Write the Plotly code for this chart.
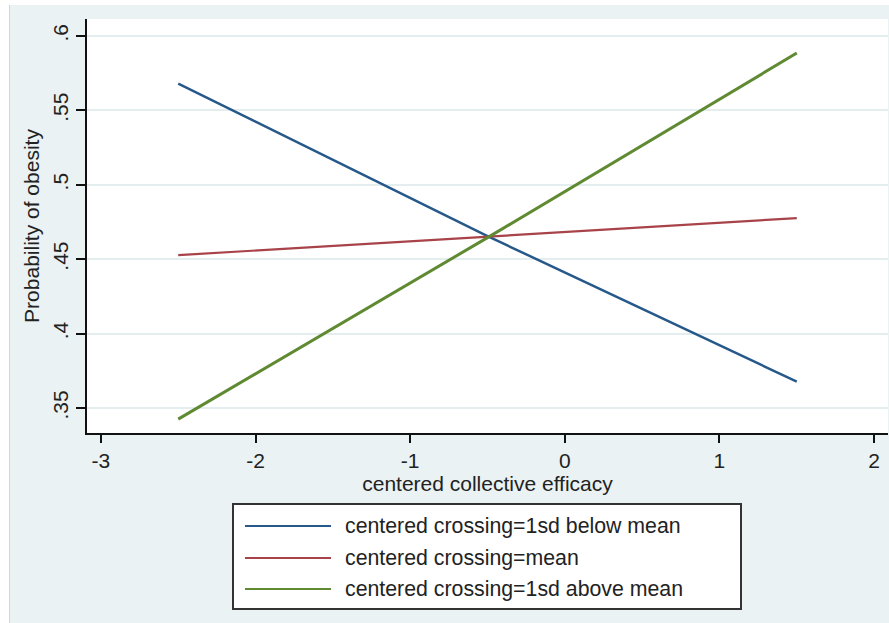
import plotly.graph_objects as go

# ---- data ----
x_vals = [-2.5, -0.5, 1.5]
below_mean = [0.568, 0.4655, 0.3677]
at_mean = [0.4527, 0.4650, 0.4776]
above_mean = [0.3425, 0.4645, 0.5885]
series_names = [
    "centered crossing=1sd below mean",
    "centered crossing=mean",
    "centered crossing=1sd above mean",
]
series_colors = ["#26598a", "#a8434a", "#5f8a32"]
series_widths = [2.5, 2.2, 3.0]
x_ticks = [-3, -2, -1, 0, 1, 2]
y_ticks = [0.35, 0.40, 0.45, 0.50, 0.55, 0.60]
y_ticklabels = [".35", ".4", ".45", ".5", ".55", ".6"]

W, H = 889, 623
L, R, T, B = 87, 1, 19, 190
PW, PH = W - L - R, H - T - B
FONT = "Liberation Sans, Arial, sans-serif"
BG = "#eaf2f3"


def px(xpix):
    return (xpix - L) / PW


def py(ypix):
    return (H - B - ypix) / PH


fig = go.Figure()
for name, ys, col, w in zip(series_names, [below_mean, at_mean, above_mean],
                            series_colors, series_widths):
    fig.add_trace(go.Scatter(x=x_vals, y=ys, mode="lines", name=name,
                             line=dict(color=col, width=w), showlegend=False))

shapes = []
annotations = []
# outer white strips
shapes.append(dict(type="rect", xref="paper", yref="paper", x0=px(0), x1=px(9),
                   y0=py(H), y1=py(0), fillcolor="white", line_width=0, layer="above"))
shapes.append(dict(type="rect", xref="paper", yref="paper", x0=px(0), x1=px(W),
                   y0=py(5), y1=py(0), fillcolor="white", line_width=0, layer="above"))
shapes.append(dict(type="line", xref="paper", yref="paper", x0=px(9.5), x1=px(9.5),
                   y0=py(H), y1=py(5), line=dict(color="#cfd6d8", width=1), layer="above"))

# custom legend box
shapes.append(dict(type="rect", xref="paper", yref="paper", x0=px(233), x1=px(741),
                   y0=py(609), y1=py(504), fillcolor="white",
                   line=dict(color="#333333", width=2)))
row_y = [526, 558, 589]
for name, col, ry in zip(series_names, series_colors, row_y):
    shapes.append(dict(type="line", xref="paper", yref="paper", x0=px(245), x1=px(331),
                       y0=py(ry), y1=py(ry), line=dict(color=col, width=2)))
    annotations.append(dict(text=name, xref="paper", yref="paper", x=px(343), y=py(ry),
                            xanchor="left", yanchor="middle", showarrow=False,
                            font=dict(family=FONT, size=21.3, color="#222222")))

fig.update_layout(
    width=W, height=H,
    margin=dict(l=L, r=R, t=T, b=B),
    paper_bgcolor=BG,
    plot_bgcolor="white",
    font=dict(family=FONT, size=21, color="#222222"),
    shapes=shapes,
    annotations=annotations,
    showlegend=False,
)
fig.update_xaxes(
    range=[-3.09, 2.09],
    tickvals=x_ticks, ticktext=[str(v) for v in x_ticks],
    showgrid=False, zeroline=False,
    showline=True, linecolor="#111111", linewidth=2,
    ticks="outside", ticklen=8, tickwidth=2, tickcolor="#111111",
    tickfont=dict(size=21),
    title=dict(text="centered collective efficacy", font=dict(size=21), standoff=0),
)
fig.update_yaxes(
    range=[0.3332, 0.6114],
    tickvals=y_ticks, ticktext=y_ticklabels, tickangle=-90,
    showgrid=True, gridcolor="#e4eeef", gridwidth=1.5, zeroline=False,
    showline=True, linecolor="#111111", linewidth=2,
    ticks="outside", ticklen=9, tickwidth=2, tickcolor="#111111",
    tickfont=dict(size=21),
    title=dict(text="Probability of obesity", font=dict(size=21), standoff=3),
)
fig.write_html("out.html", config={"displayModeBar": False},
               post_script="document.body.style.margin='0';document.body.style.overflow='hidden';")
